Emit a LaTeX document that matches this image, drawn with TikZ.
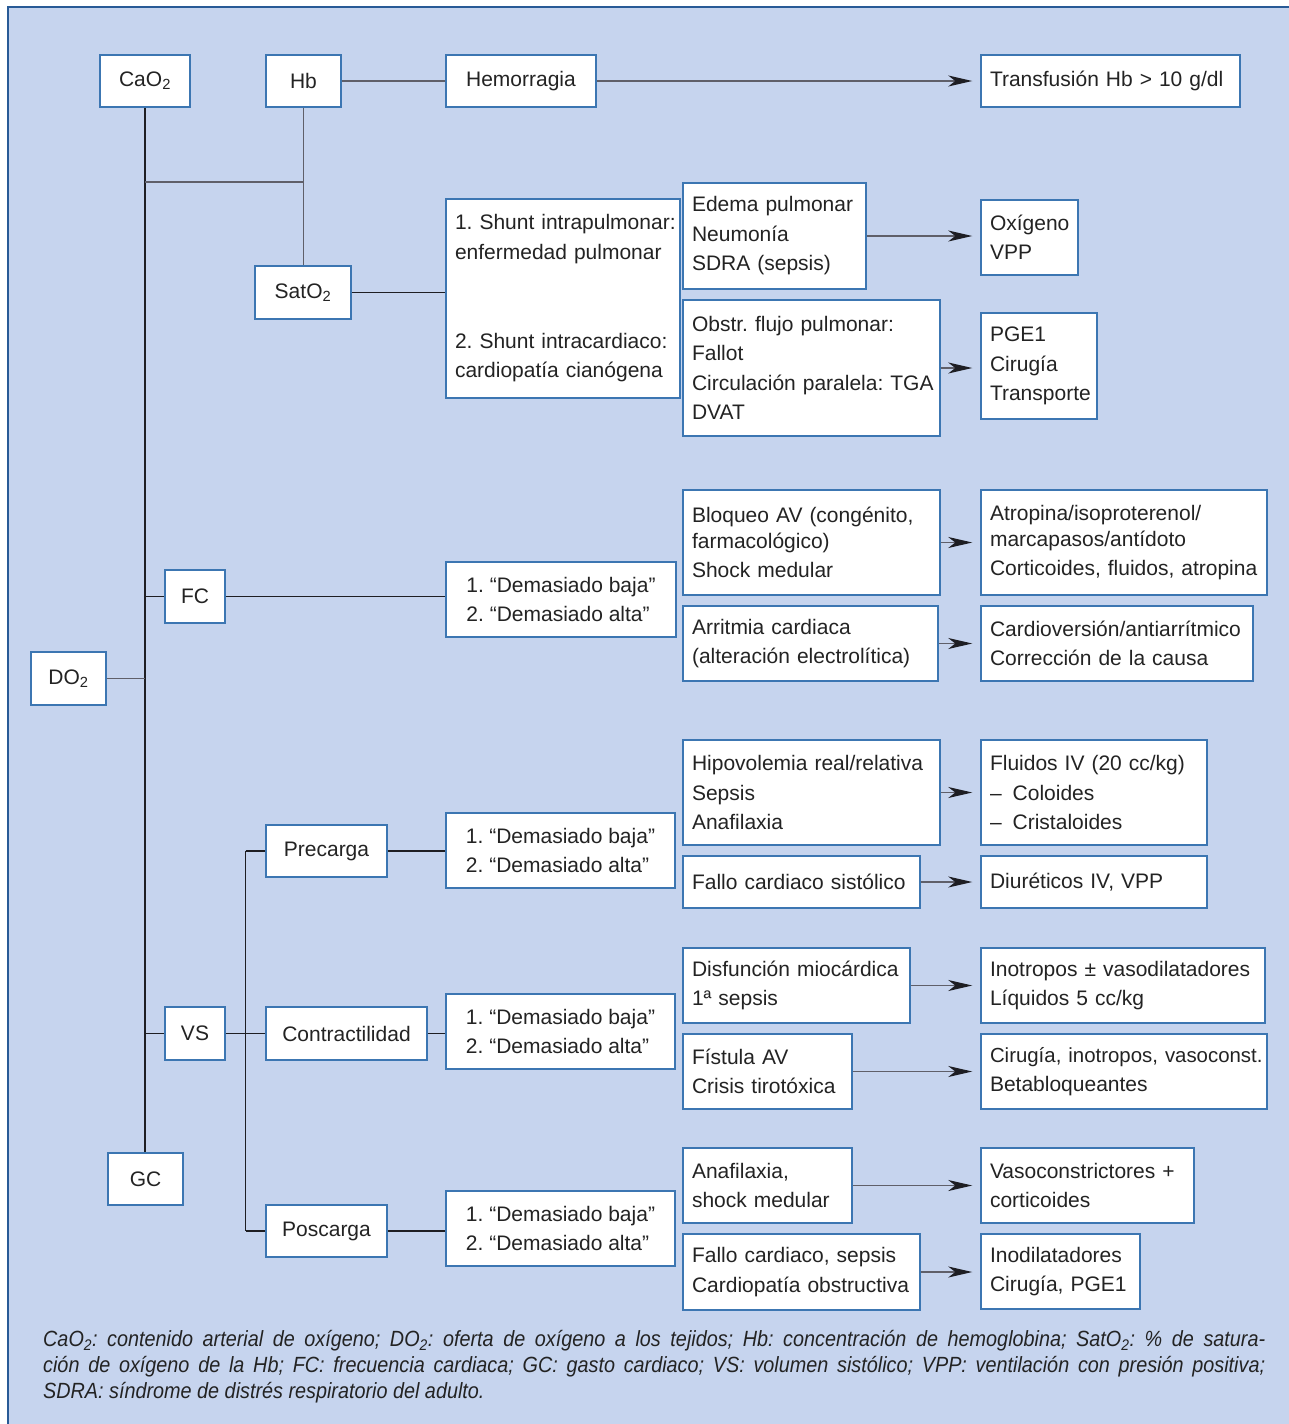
\documentclass[tikz,border=0pt]{standalone}
\usepackage{fontspec}
\setmainfont{Liberation Sans}
\newfontfamily\notefont[FakeStretch=0.9]{Liberation Sans}
\usetikzlibrary{arrows.meta}
\frenchspacing

\definecolor{panel}{RGB}{198,212,238}
\definecolor{frameblue}{RGB}{40,90,150}
\definecolor{boxblue}{RGB}{60,118,178}
\definecolor{ink}{RGB}{35,35,35}
\definecolor{wire}{RGB}{30,30,35}
\definecolor{wiregray}{RGB}{95,95,105}

% keep a line of a box on one line
\newcommand{\nb}[1]{\mbox{#1}}
% slightly tighter setting for the widest lines
\newcommand{\tightline}[1]{\mbox{\fontsize{20.4}{29.5}\selectfont #1}}

\begin{document}
\begin{tikzpicture}[x=1pt,y=-1pt,
  box/.style={draw=boxblue, line width=1.5pt, fill=white, text=ink,
    inner xsep=9pt, inner ysep=0pt, font=\fontsize{21}{29.5}\selectfont},
  cbox/.style n args={2}{box, minimum width=#1pt, minimum height=#2pt, align=center},
  lbox/.style n args={3}{box, minimum width=#1pt, minimum height=#2pt,
    text width=#3pt, align=left},
  wireline/.style={draw=wire, line width=1.4pt},
  grayline/.style={draw=wiregray, line width=1.4pt},
  arr/.style={draw=wiregray, line width=1.4pt,
    -{Stealth[length=24pt,width=11pt,inset=7pt,color=wire]}, shorten >=8pt}]

% panel
\useasboundingbox (0,0) rectangle (1289,1424);
\fill[panel] (8,7) rectangle (1289,1424);
\draw[frameblue, line width=1.5pt] (8,1424) -- (8,7) -- (1289,7);

% left column
\node[cbox={90}{52}] (cao) at (145,81) {CaO\textsubscript{2}};
\node[cbox={75}{53}] (do) at (68.5,678.5) {DO\textsubscript{2}};
\node[cbox={75}{52}] (gc) at (145.5,1179) {GC};
\node[cbox={60}{53}] (fc) at (195,596.5) {FC};
\node[cbox={60}{53}] (vs) at (195,1033.5) {VS};

% oxygen content branch
\node[cbox={75}{52}] (hb) at (303.5,81) {Hb};
\node[cbox={96}{53}] (sat) at (303,292.5) {SatO\textsubscript{2}};
\node[cbox={150}{52}] (hem) at (521,81) {Hemorragia};
\node[lbox={259}{52}{241}] (trans) at (1110.5,81) {\nb{Transfusión Hb > 10 g/dl}};
\node[lbox={234}{199}{216}] (shunt) at (563,298.5)
  {\nb{1. Shunt intrapulmonar:}\\\nb{enfermedad pulmonar}\\[59.5pt]
   \nb{2. Shunt intracardiaco:}\\\nb{cardiopatía cianógena}};
\node[lbox={183}{106}{165}] (edema) at (774.5,236)
  {\nb{Edema pulmonar}\\Neumonía\\\nb{SDRA (sepsis)}};
\node[lbox={97}{75}{79}] (oxi) at (1029.5,237.5) {Oxígeno\\VPP};
\node[lbox={257}{136}{239}] (obstr) at (811.5,368)
  {\nb{Obstr. flujo pulmonar:}\\Fallot\\\nb{Circulación paralela: TGA}\\DVAT};
\node[lbox={116}{106}{98}] (pge) at (1039,366) {PGE1\\Cirugía\\Transporte};

% heart rate branch
\node[cbox={230}{75}, align=left] (fcd) at (561,599.5)
  {1. “Demasiado baja”\\2. “Demasiado alta”};
\node[lbox={257}{105}{239}] (bloq) at (811.5,542.5)
  {\nb{Bloqueo AV (congénito,}\\[-3.5pt]farmacológico)\\\nb{Shock medular}};
\node[lbox={286}{105}{268}] (atro) at (1124,542.5)
  {\nb{Atropina/isoproterenol/}\\[-3.5pt]\nb{marcapasos/antídoto}\\\nb{Corticoides, fluidos, atropina}};
\node[lbox={255}{75}{237}] (arr) at (810.5,643.5)
  {\nb{Arritmia cardiaca}\\\nb{(alteración electrolítica)}};
\node[lbox={272}{75}{254}] (card) at (1117,643.5)
  {\nb{Cardioversión/antiarrítmico}\\\nb{Corrección de la causa}};

% stroke volume branch
\node[cbox={121}{52}] (pre) at (326.5,851) {Precarga};
\node[cbox={161}{53}] (contr) at (346.5,1033.5) {Contractilidad};
\node[cbox={121}{52}] (pos) at (326.5,1231) {Poscarga};
\node[cbox={229}{75}, align=left] (predem) at (560.5,850.5)
  {1. “Demasiado baja”\\2. “Demasiado alta”};
\node[cbox={229}{75}, align=left] (condem) at (560.5,1031.5)
  {1. “Demasiado baja”\\2. “Demasiado alta”};
\node[cbox={229}{75}, align=left] (posdem) at (560.5,1228.5)
  {1. “Demasiado baja”\\2. “Demasiado alta”};

\node[lbox={257}{105}{239}] (hipo) at (811.5,792.5)
  {\nb{Hipovolemia real/relativa}\\Sepsis\\Anafilaxia};
\node[lbox={226}{105}{208}] (flu) at (1094,792.5)
  {\nb{Fluidos IV (20 cc/kg)}\\–\hspace{11pt}Coloides\\–\hspace{11pt}Cristaloides};
\node[lbox={237}{52}{219}] (fallo) at (801.5,882) {\nb{Fallo cardiaco sistólico}};
\node[lbox={226}{52}{208}] (diur) at (1094,882) {\nb{Diuréticos IV, VPP}};
\node[lbox={227}{75}{209}] (disf) at (796.5,985.5)
  {\nb{Disfunción miocárdica}\\\nb{1ª sepsis}};
\node[lbox={284}{75}{266}] (ino) at (1123,985.5)
  {\nb{Inotropos ± vasodilatadores}\\\nb{Líquidos 5 cc/kg}};
\node[lbox={169}{75}{151}] (fist) at (767.5,1071.5)
  {\nb{Fístula AV}\\\nb{Crisis tirotóxica}};
\node[lbox={286}{75}{268}] (ciru) at (1124,1071.5)
  {\tightline{Cirugía, inotropos, vasoconst.}\\Betabloqueantes};
\node[lbox={169}{75}{151}] (ana) at (767.5,1185.5)
  {Anafilaxia,\\\nb{shock medular}};
\node[lbox={213}{75}{195}] (vaso) at (1087.5,1185.5)
  {\nb{Vasoconstrictores +}\\corticoides};
\node[lbox={237}{76}{219}] (fsep) at (801.5,1272)
  {\nb{Fallo cardiaco, sepsis}\\\nb{Cardiopatía obstructiva}};
\node[lbox={159}{75}{141}] (inod) at (1060.5,1271.5)
  {Inodilatadores\\\nb{Cirugía, PGE1}};

% trunk and branches
\coordinate (ylev) at (0,182);
\coordinate (bus) at (245.5,0);
\draw[wireline] (cao.south) -- (cao.south |- gc.north);
\draw[grayline] (cao.south |- ylev) -- (hb.south |- ylev);
\draw[grayline] (hb.south) -- (hb.south |- sat.north);
\draw[grayline] (hb.east) -- (hem.west);
\draw[wireline] (sat.east) -- (sat.east -| shunt.west);
\draw[grayline] (do.east) -- (do.east -| cao.south);
\draw[wireline] (fc.west -| cao.south) -- (fc.west);
\draw[wireline] (fc.east) -- (fc.east -| fcd.west);
\draw[wireline] (vs.west -| cao.south) -- (vs.west);
\draw[wireline] (vs.east) -- (contr.west);
\draw[wireline] (pre.west -| bus) -- (pos.west -| bus);
\draw[wireline] (pre.west -| bus) -- (pre.west);
\draw[wireline] (pos.west -| bus) -- (pos.west);
\draw[wireline] (pre.east) -- (pre.east -| predem.west);
\draw[wireline] (contr.east) -- (contr.east -| condem.west);
\draw[wireline] (pos.east) -- (pos.east -| posdem.west);

% treatment arrows
\draw[arr] (hem.east) -- (hem.east -| trans.west);
\draw[arr] (edema.east) -- (edema.east -| oxi.west);
\draw[arr] (obstr.east) -- (obstr.east -| pge.west);
\draw[arr] (bloq.east) -- (bloq.east -| atro.west);
\draw[arr] (arr.east) -- (arr.east -| card.west);
\draw[arr] (hipo.east) -- (hipo.east -| flu.west);
\draw[arr] (fallo.east) -- (fallo.east -| diur.west);
\draw[arr] (disf.east) -- (disf.east -| ino.west);
\draw[arr] (fist.east) -- (fist.east -| ciru.west);
\draw[arr] (ana.east) -- (ana.east -| vaso.west);
\draw[arr] (fsep.east) -- (fsep.east -| inod.west);

% abbreviations
\node[anchor=north west, inner sep=0pt, align=left, text=ink,
  font=\notefont\itshape\fontsize{22}{26}\selectfont] (legend) at (43,1330)
  {\makebox[1222pt][s]{CaO\textsubscript{2}: contenido arterial de oxígeno; DO\textsubscript{2}: oferta de oxígeno a los tejidos; Hb: concentración de hemoglobina; SatO\textsubscript{2}: \% de satura-}\\
   \makebox[1222pt][s]{ción de oxígeno de la Hb; FC: frecuencia cardiaca; GC: gasto cardiaco; VS: volumen sistólico; VPP: ventilación con presión positiva;}\\
   SDRA: síndrome de distrés respiratorio del adulto.};
\end{tikzpicture}
\end{document}
